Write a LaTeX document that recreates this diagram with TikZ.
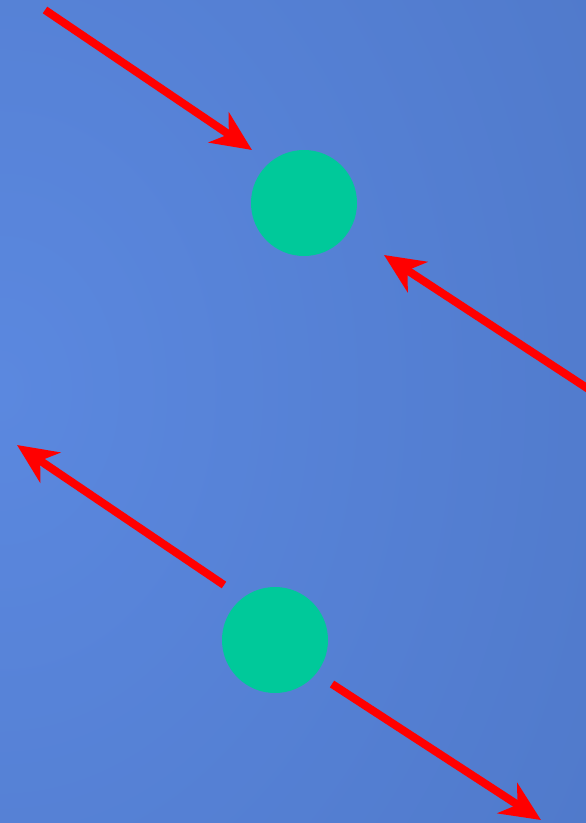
\documentclass[tikz,border=0pt]{standalone}
\usetikzlibrary{arrows.meta}
\definecolor{bginner}{HTML}{5B88DF}
\definecolor{bgouter}{HTML}{4A72C0}
\definecolor{dot}{HTML}{00C99A}
\definecolor{arr}{HTML}{FF0000}
\begin{document}
\begin{tikzpicture}[x=1pt,y=-1pt,
  ball/.style={circle,fill=dot,minimum size=106pt,inner sep=0pt,draw=none},
  redarrow/.style={draw=arr,line width=8pt,-{Stealth[length=40pt,width=36pt,inset=12pt]}}]
\useasboundingbox (0,0) rectangle (586,823);
\begin{scope}
\clip (0,0) rectangle (586,823);
\shade[inner color=bginner,outer color=bgouter,yscale=1.3] (0,300) circle (1050pt);
\end{scope}
\node[ball] (b1) at (304,203) {};
\node[ball] (b2) at (275,640) {};
\coordinate (s1) at (45,10);
\coordinate (t1) at (252,150);
\coordinate (s2) at (590,390);
\coordinate (t2) at (384,255);
\coordinate (s3) at (224,585);
\coordinate (t3) at (17,445);
\coordinate (s4) at (332,684);
\coordinate (t4) at (541,820);
\draw[redarrow] (s1) -- (t1);
\draw[redarrow] (s2) -- (t2);
\draw[redarrow] (s3) -- (t3);
\draw[redarrow] (s4) -- (t4);
\end{tikzpicture}
\end{document}
